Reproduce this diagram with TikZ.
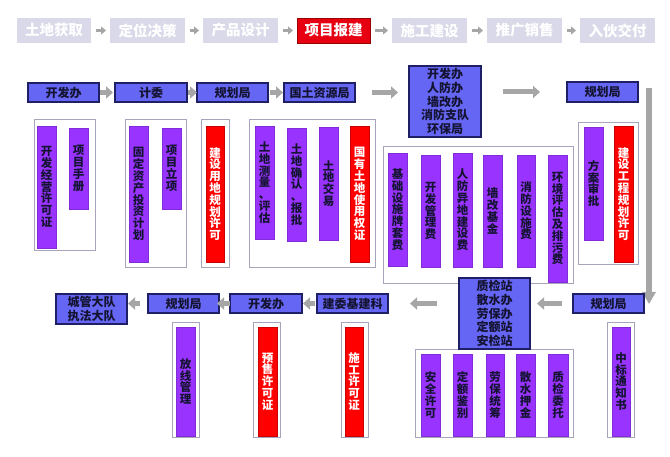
\documentclass[tikz,border=0pt]{standalone}
\usepackage{fontspec}
\newfontfamily\cjk{Noto Sans CJK SC}
\usetikzlibrary{arrows.meta}
\definecolor{hdr}{HTML}{D9D9E9}
\definecolor{hred}{HTML}{E60012}
\definecolor{bluef}{HTML}{6666F5}
\definecolor{navy}{HTML}{1F1F66}
\definecolor{purp}{HTML}{9933FF}
\definecolor{redb}{HTML}{FF0000}
\definecolor{cont}{HTML}{A8A4BC}
\definecolor{arr}{HTML}{A6A6A6}
\definecolor{txt}{HTML}{141432}
\newcommand\bx[7]{\node[#1,anchor=north west,minimum width={#5-#3},minimum height={#6-#4}] (#2) at (#3,#4) {#7};}
\begin{document}
\begin{tikzpicture}[x=1pt,y=-1pt,
  every node/.style={inner sep=0pt,outer sep=0pt},
  hbox/.style={fill=hdr,text=white,font=\cjk\bfseries\fontsize{14.5}{14.5}\selectfont},
  hact/.style={fill=hred,draw=red!60!black,line width=0.8pt,text=white,font=\cjk\bfseries\fontsize{14.5}{14.5}\selectfont},
  bbox/.style={fill=bluef,draw=navy,line width=1.2pt,text=txt,align=center,font=\cjk\bfseries\fontsize{12}{13.8}\selectfont},
  cbox/.style={fill=white,draw=cont,line width=1pt},
  pbar/.style={fill=purp,draw=purp!85!black,line width=0.4pt,text=txt,align=center,font=\cjk\bfseries\fontsize{11.5}{11.8}\selectfont},
  rbar/.style={fill=redb,draw=red!80!black,line width=0.4pt,text=white,align=center,font=\cjk\bfseries\fontsize{11.5}{11.8}\selectfont},
  garr/.style={draw=arr,line width=5pt,-{Triangle[width=12pt,length=7pt]}},
  harr/.style={draw=arr,line width=3pt,-{Triangle[width=8pt,length=5pt]},shorten <=5pt,shorten >=4pt},
]
\useasboundingbox[fill=white] (0,0) rectangle (670,457);

% header
\bx{hbox}{h1}{17}{18}{91}{43}{土地获取}
\bx{hbox}{h2}{110}{18}{185}{43}{定位决策}
\bx{hbox}{h3}{203}{18}{278}{43}{产品设计}
\bx{hact}{h4}{297}{18}{370}{43}{项目报建}
\bx{hbox}{h5}{392}{18}{467}{43}{施工建设}
\bx{hbox}{h6}{487}{18}{562}{43}{推广销售}
\bx{hbox}{h7}{580}{18}{655}{43}{入伙交付}
\draw[harr] (h1) -- (h2);
\draw[harr] (h2) -- (h3);
\draw[harr] (h3) -- (h4);
\draw[harr] (h4) -- (h5);
\draw[harr] (h5) -- (h6);
\draw[harr] (h6) -- (h7);

% containers top
\bx{cbox}{c1}{34}{120}{95}{251}{}
\bx{cbox}{c2}{125}{120}{186}{268}{}
\bx{cbox}{c3}{201}{120}{229}{268}{}
\bx{cbox}{c4}{249}{120}{375}{268}{}
\bx{cbox}{c5}{383}{147}{573}{284}{}
\bx{cbox}{c6}{578}{123}{638}{265}{}

\bx{pbar}{p1}{37}{126}{56}{248}{开\\发\\经\\营\\许\\可\\证}
\bx{pbar}{p2}{69}{128}{88}{209}{项\\目\\手\\册}
\bx{pbar}{p3}{129}{126}{148}{262}{固\\定\\资\\产\\投\\资\\计\\划}
\bx{pbar}{p4}{162}{128}{181}{209}{项\\目\\立\\项}
\bx{rbar}{r1}{206}{126}{224}{262}{建\\设\\用\\地\\规\\划\\许\\可}
\bx{pbar}{p5}{255}{126}{274}{239}{土\\地\\测\\量\\、\\评\\估}
\bx{pbar}{p6}{287}{128}{306}{241}{土\\地\\确\\认\\、\\报\\批}
\bx{pbar}{p7}{319}{127}{338}{240}{土\\地\\交\\易}
\bx{rbar}{r2}{350}{126}{369}{262}{国\\有\\土\\地\\使\\用\\权\\证}
\bx{pbar}{p8}{388}{153}{407}{266}{基\\础\\设\\施\\牌\\套\\费}
\bx{pbar}{p9}{421}{155}{440}{267}{开\\发\\管\\理\\费}
\bx{pbar}{p10}{453}{153}{472}{267}{人\\防\\异\\地\\建\\设\\费}
\bx{pbar}{p11}{483}{155}{502}{267}{墙\\改\\基\\金}
\bx{pbar}{p12}{517}{155}{535}{267}{消\\防\\设\\施\\费}
\bx{pbar}{p13}{548}{155}{567}{282}{环\\境\\评\\估\\及\\排\\污\\费}
\bx{pbar}{p14}{584}{127}{603}{240}{方\\案\\审\\批}
\bx{rbar}{r3}{614}{126}{633}{262}{建\\设\\工\\程\\规\\划\\许\\可}

% top row boxes
\bx{bbox}{t1}{28}{83}{99}{102}{开发办}
\bx{bbox}{t2}{115}{83}{187}{102}{计委}
\bx{bbox}{t3}{197}{83}{268}{102}{规划局}
\bx{bbox}{t4}{284}{83}{355}{102}{国土资源局}
\bx{bbox}{t5}{409}{66}{481}{137}{开发办\\人防办\\墙改办\\消防支队\\环保局}
\bx{bbox}{t6}{567}{82}{638}{102}{规划局}
\draw[garr,shorten <=1pt,shorten >=2pt] (t1.east) -- (t2.west);
\draw[garr,shorten <=1pt,shorten >=0pt] (t2.east) -- (t3.west);
\draw[garr,shorten <=2pt,shorten >=1pt] (t3.east) -- (t4.west);
\draw[garr,shorten <=17pt,shorten >=11pt] (t4.east) -- (t4.east -| t5.west);
\draw[garr,shorten <=22pt,shorten >=27pt] (t5.east |- t6.west) -- (t6.west);

% vertical arrow
\coordinate (vs) at (649,88);
\coordinate (ve) at (649,304);
\draw[draw=arr,line width=6pt,-{Triangle[width=13pt,length=12pt]}] (vs) -- (ve);

% lower containers
\bx{cbox}{d1}{172}{323}{199}{437}{}
\bx{cbox}{d2}{253}{323}{280}{437}{}
\bx{cbox}{d3}{341}{323}{368}{437}{}
\bx{cbox}{d4}{415}{350}{573}{437}{}
\bx{cbox}{d5}{607}{323}{634}{437}{}
\bx{pbar}{q1}{176}{327}{195}{436}{放\\线\\管\\理}
\bx{rbar}{s1}{258}{327}{277}{436}{预\\售\\许\\可\\证}
\bx{rbar}{s2}{345}{327}{363}{436}{施\\工\\许\\可\\证}
\bx{pbar}{q2}{421}{354}{440}{436}{安\\全\\许\\可}
\bx{pbar}{q3}{453}{354}{472}{436}{定\\额\\鉴\\别}
\bx{pbar}{q4}{486}{354}{504}{436}{劳\\保\\统\\筹}
\bx{pbar}{q5}{516}{354}{535}{436}{散\\水\\押\\金}
\bx{pbar}{q6}{548}{354}{568}{436}{质\\检\\委\\托}
\bx{pbar}{q7}{612}{327}{630}{436}{中\\标\\通\\知\\书}

% lower row boxes
\bx{bbox}{b1}{56}{294}{127}{324}{城管大队\\执法大队}
\bx{bbox}{b2}{148}{294}{219}{313}{规划局}
\bx{bbox}{b3}{230}{294}{302}{313}{开发办}
\bx{bbox}{b4}{317}{294}{388}{313}{建委基建科}
\bx{bbox}{b5}{459}{278}{530}{349}{质检站\\散水办\\劳保办\\定额站\\安检站}
\bx{bbox}{b6}{573}{294}{644}{313}{规划局}
\draw[garr,shorten <=8pt,shorten >=1pt] (b2.west) -- (b2.west -| b1.east);
\draw[garr,shorten <=0pt,shorten >=-2pt] (b3.west) -- (b2.east);
\draw[garr,shorten <=2pt,shorten >=1pt] (b4.west) -- (b3.east);
\draw[garr,shorten <=22pt,shorten >=22pt] (b4.east -| b5.west) -- (b4.east);
\draw[garr,shorten <=11pt,shorten >=7pt] (b6.west) -- (b6.west -| b5.east);
\end{tikzpicture}
\end{document}
